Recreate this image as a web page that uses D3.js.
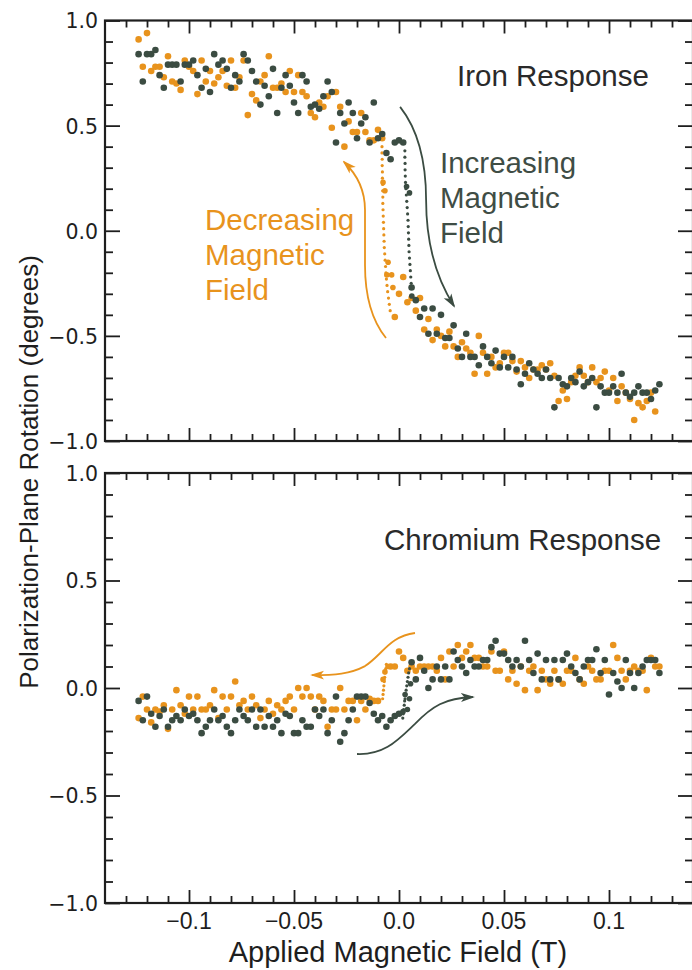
<!DOCTYPE html>
<html><head><meta charset="utf-8">
<script src="https://cdn.jsdelivr.net/npm/d3@7"></script>
<style>body{margin:0;background:#fff;} svg{display:block;}</style>
</head><body><svg id="chart" width="692" height="970"></svg>
<script>
// ---------- DATA ----------
// Field sweep grid (T): -0.124 ... 0.124 in 0.002 T steps (125 samples)
const fieldGrid = d3.range(125).map(i => +(-0.124 + 0.002 * i).toFixed(3));

// Iron, increasing field (dark)
const ironIncreasing = [
 0.84,0.71,0.84,0.84,0.86,0.74,0.68,0.79,0.79,0.79,
 0.71,0.79,0.79,0.81,0.74,0.68,0.77,0.66,0.84,0.79,
 0.81,0.77,0.68,0.74,0.71,0.84,0.81,0.76,0.71,0.60,
 0.69,0.64,0.77,0.56,0.68,0.74,0.69,0.61,0.56,0.74,
 0.71,0.59,0.60,0.58,0.64,0.71,0.66,0.42,0.56,0.51,
 0.61,0.56,0.44,0.51,0.54,0.42,0.61,0.44,0.46,0.37,
 0.34,0.42,0.43,0.42,null,
 -0.27,-0.33,-0.41,-0.37,-0.49,-0.37,-0.49,-0.40,-0.51,-0.51,
 -0.45,-0.56,-0.60,-0.49,-0.60,-0.60,-0.64,-0.55,-0.60,-0.63,
 -0.57,-0.65,-0.60,-0.65,-0.60,-0.66,-0.73,-0.68,-0.63,-0.66,
 -0.68,-0.70,-0.66,-0.70,-0.84,-0.70,-0.73,-0.74,-0.70,-0.72,
 -0.67,-0.74,-0.72,-0.70,-0.84,-0.74,-0.77,-0.77,-0.74,-0.77,
 -0.68,-0.77,-0.79,-0.77,-0.74,-0.77,-0.77,-0.80,-0.76,-0.73
];
// Iron, decreasing field (orange)
const ironDecreasing = [
 0.91,0.78,0.94,0.76,0.78,0.78,0.73,0.83,0.71,0.70,
 0.67,0.81,0.78,0.76,0.65,0.81,0.71,0.76,0.70,0.73,
 0.76,0.69,0.81,0.68,0.73,0.81,0.55,0.65,0.62,0.71,
 0.74,0.83,0.68,0.68,0.70,0.66,0.76,0.66,0.74,0.66,
 0.64,0.56,0.54,0.61,0.59,0.64,0.49,0.66,0.59,0.40,
 0.52,0.47,0.47,0.56,0.47,0.43,0.43,0.48,0.44,null,
 null,-0.41,-0.30,-0.22,-0.34,-0.32,-0.38,-0.32,-0.47,-0.42,
 -0.52,-0.47,-0.50,-0.55,-0.48,-0.55,-0.60,-0.53,-0.56,-0.58,
 -0.68,-0.50,-0.58,-0.68,-0.60,-0.65,-0.63,-0.58,-0.58,-0.62,
 -0.67,-0.62,-0.65,-0.70,-0.66,-0.66,-0.64,-0.66,-0.63,-0.69,
 -0.81,-0.76,-0.80,-0.72,-0.69,-0.65,-0.69,-0.72,-0.65,-0.72,
 -0.70,-0.67,-0.76,-0.70,-0.81,-0.74,-0.77,-0.80,-0.90,-0.82,
 -0.84,-0.81,-0.77,-0.86,null
];
// Chromium, increasing field (dark)
const chromiumIncreasing = [
 -0.06,-0.15,-0.04,-0.12,-0.18,-0.13,-0.10,-0.18,-0.15,-0.13,
 -0.15,-0.10,-0.13,-0.12,-0.15,-0.21,-0.18,-0.15,-0.10,-0.15,
 -0.13,-0.18,-0.21,-0.15,-0.10,-0.13,-0.15,-0.10,-0.18,-0.10,
 -0.18,-0.13,-0.18,-0.15,-0.21,-0.12,-0.13,-0.21,-0.21,-0.15,
 -0.18,-0.18,-0.10,-0.13,-0.10,-0.21,-0.15,-0.04,-0.25,-0.21,
 -0.15,-0.10,-0.04,-0.04,-0.04,-0.07,-0.12,-0.15,-0.13,-0.18,
 -0.15,-0.13,-0.12,null,null,
 0.12,0.04,0.14,0.08,0.00,0.04,0.10,0.04,0.10,0.04,
 0.17,0.13,0.10,0.07,0.13,0.10,0.10,0.13,0.13,0.19,
 0.22,0.16,0.16,0.13,0.10,0.13,0.10,0.22,0.13,0.07,
 0.16,0.04,0.13,0.04,0.13,0.04,0.13,0.16,0.10,0.07,
 0.04,0.10,0.13,0.13,0.18,0.07,0.13,-0.03,0.07,0.03,
 0.00,0.13,0.07,0.00,0.07,0.10,0.13,0.13,0.13,0.07
];
// Chromium, decreasing field (orange)
const chromiumDecreasing = [
 -0.14,-0.04,-0.10,-0.16,-0.10,-0.11,-0.08,-0.19,-0.10,-0.01,
 -0.08,-0.12,-0.04,-0.10,-0.04,-0.10,-0.10,-0.08,-0.01,-0.14,
 -0.04,-0.10,-0.04,0.03,-0.08,-0.06,-0.10,-0.04,-0.08,-0.14,
 -0.10,-0.06,-0.12,-0.08,-0.10,-0.06,-0.04,-0.10,0.00,-0.04,
 0.00,-0.04,-0.10,-0.04,-0.06,-0.18,-0.10,-0.10,0.00,-0.10,
 -0.06,-0.06,-0.15,-0.06,-0.10,-0.05,-0.06,-0.06,null,null,
 0.10,0.10,0.17,0.14,0.08,0.10,0.08,0.10,0.10,0.10,
 0.10,0.08,0.14,0.04,0.17,0.10,0.20,0.14,0.17,0.20,
 0.14,0.14,0.10,0.10,0.17,0.08,0.08,0.17,0.04,0.08,
 0.02,0.10,-0.01,0.08,0.10,-0.01,0.08,0.04,0.02,0.08,
 0.04,0.02,0.08,0.08,0.14,0.04,0.02,0.10,0.08,0.04,
 0.04,0.08,0.08,0.20,0.14,0.08,0.04,0.08,0.10,0.08,
 0.08,-0.01,0.14,0.10,0.10
];

// Dense sweeps through the switching fields: [field (T), rotation (deg)]
const ironIncreasingSwitch = [
 [0.0028,0.38],[0.0028,0.35],[0.0029,0.32],[0.0029,0.29],[0.0030,0.26],[0.0031,0.23],
 [0.0033,0.20],[0.0035,0.17],[0.0037,0.14],[0.0039,0.11],[0.0041,0.08],[0.0043,0.05],
 [0.0044,0.02],[0.0045,-0.01],[0.0046,-0.04],[0.0047,-0.07],[0.0048,-0.10],[0.0050,-0.13],
 [0.0052,-0.16],[0.0054,-0.19],[0.0056,-0.22],[0.0058,-0.25]
];
const ironIncreasingSwitchLarge = [[0.0036,0.21],[0.0050,0.18],[0.0061,-0.31]];
const ironDecreasingSwitch = [
 [-0.0081,0.40],[-0.0081,0.37],[-0.0080,0.34],[-0.0080,0.31],[-0.0079,0.28],[-0.0079,0.25],
 [-0.0078,0.22],[-0.0078,0.19],[-0.0077,0.16],[-0.0077,0.13],[-0.0076,0.10],[-0.0075,0.07],
 [-0.0074,0.04],[-0.0073,0.01],[-0.0072,-0.02],[-0.0071,-0.05],[-0.0070,-0.08],[-0.0068,-0.11],
 [-0.0066,-0.14],[-0.0064,-0.17],[-0.0062,-0.20],[-0.0060,-0.23],[-0.0057,-0.26],[-0.0054,-0.29],
 [-0.0050,-0.32],[-0.0046,-0.35],[-0.0042,-0.38]
];
const ironDecreasingSwitchLarge = [[-0.0076,0.23],[-0.0067,0.19],[-0.0052,-0.15],[-0.0035,-0.21],[-0.0029,-0.27],[-0.0058,-0.21]];
const chromiumIncreasingSwitch = [
 [0.0018,-0.14],[0.0020,-0.12],[0.0022,-0.10],[0.0025,-0.08],[0.0027,-0.06],[0.0029,-0.05],
 [0.0031,-0.03],[0.0034,-0.01],[0.0037,0.01],[0.0040,0.03],[0.0043,0.05],[0.0046,0.07],[0.0050,0.09]
];
const chromiumIncreasingSwitchLarge = [[0.0019,-0.11],[0.0029,-0.03],[0.0040,-0.10],[0.0050,-0.05],[0.0055,0.02]];
const chromiumDecreasingSwitch = [
 [-0.0078,-0.05],[-0.0076,-0.03],[-0.0074,-0.01],[-0.0072,0.01],[-0.0070,0.03],
 [-0.0068,0.05],[-0.0066,0.07],[-0.0063,0.09],[-0.0060,0.11]
];
const chromiumDecreasingSwitchLarge = [[-0.0076,0.04],[-0.0067,0.075],[-0.0052,0.10]];

// Axis ticks
const xMajorTicks = [-0.1, -0.05, 0, 0.05, 0.1];
const xTickLabels = ["\u22120.1", "\u22120.05", "0.0", "0.05", "0.1"];
const xMinorTicks = [-0.13,-0.12,-0.11,-0.09,-0.08,-0.07,-0.06,-0.04,-0.03,-0.02,-0.01,
                     0.01,0.02,0.03,0.04,0.06,0.07,0.08,0.09,0.11,0.12,0.13];
const yMajorTicks = [-1, -0.5, 0, 0.5, 1];
const yTickLabels = ["\u22121.0", "\u22120.5", "0.0", "0.5", "1.0"];
const yMinorTicks = [-0.9,-0.8,-0.7,-0.6,-0.4,-0.3,-0.2,-0.1,0.1,0.2,0.3,0.4,0.6,0.7,0.8,0.9];

// Annotation arrows, in data coordinates [field, rotation]
const arrowIncreasingIron = {M:[0.0005,0.589], Q1:[[0.0129,0.432],[0.0129,0.146]], Q2:[[0.0129,-0.149],[0.0262,-0.358]]};
const arrowDecreasingIron = {M:[-0.0062,-0.510], Q1:[[-0.0162,-0.387],[-0.0162,-0.163]], L:[-0.0162,0.0987], Q2:[[-0.0162,0.232],[-0.0262,0.327]]};
const arrowDecreasingCr = {M:[0.0076,0.256], C1:[[-0.0043,0.242],[-0.0081,0.153],[-0.0162,0.102]], C2:[[-0.0233,0.065],[-0.0305,0.060],[-0.0414,0.060]]};
const arrowIncreasingCr = {M:[-0.020,-0.307], C1:[[-0.0067,-0.312],[-0.0005,-0.242],[0.0076,-0.167]], C2:[[0.0157,-0.084],[0.0219,-0.047],[0.0352,-0.042]]};

// ---------- STYLE / LAYOUT ----------
const ORANGE = "#e8931d";
const DARK = "#3b4c42";
const INK = "#1e1e1e";
const SANS = "'Liberation Sans', Arial, Helvetica, sans-serif";

const svg = d3.select("#chart");
svg.append("rect").attr("width", 692).attr("height", 970).attr("fill", "#fff");

const x = d3.scaleLinear().domain([-0.14, 0.14]).range([105, 693]);
const panels = [
  {key: "iron", top: 20.5, bottom: 441, showX: false},
  {key: "cr", top: 473, bottom: 903, showX: true}
];
panels.forEach(p => { p.y = d3.scaleLinear().domain([-1, 1]).range([p.bottom, p.top]); });

const defs = svg.append("defs");
[["arrDark", DARK], ["arrOrange", ORANGE]].forEach(([id, col]) => {
  defs.append("marker").attr("id", id).attr("viewBox", "0 0 14 10")
    .attr("refX", 12).attr("refY", 5).attr("markerWidth", 14).attr("markerHeight", 10)
    .attr("markerUnits", "userSpaceOnUse").attr("orient", "auto")
    .append("path").attr("d", "M0,0.5 L14,5 L0,9.5 L3.5,5 Z").attr("fill", col);
});

function drawAxes(p) {
  const g = svg.append("g");
  const styleAxis = sel => {
    sel.select(".domain").remove();
    sel.selectAll(".tick line").attr("stroke", INK).attr("stroke-width", 1.8);
  };
  g.append("g").attr("transform", `translate(0,${p.bottom})`)
    .call(d3.axisBottom(x).tickValues(xMajorTicks).tickSize(-13).tickFormat("")).call(styleAxis);
  g.append("g").attr("transform", `translate(0,${p.bottom})`)
    .call(d3.axisBottom(x).tickValues(xMinorTicks).tickSize(-7).tickFormat("")).call(styleAxis);
  g.append("g").attr("transform", `translate(0,${p.top})`)
    .call(d3.axisTop(x).tickValues(xMajorTicks).tickSize(-13).tickFormat("")).call(styleAxis);
  g.append("g").attr("transform", `translate(0,${p.top})`)
    .call(d3.axisTop(x).tickValues(xMinorTicks).tickSize(-7).tickFormat("")).call(styleAxis);
  const yl = g.append("g").attr("transform", `translate(${x.range()[0]},0)`)
    .call(d3.axisLeft(p.y).tickValues(yMajorTicks).tickSize(-15).tickPadding(7)
      .tickFormat((d, i) => yTickLabels[i])).call(styleAxis);
  yl.selectAll("text").attr("font-family", "'DejaVu Sans', sans-serif").attr("font-size", 20.5)
    .attr("fill", INK).attr("dy", "0.36em");
  g.append("g").attr("transform", `translate(${x.range()[0]},0)`)
    .call(d3.axisLeft(p.y).tickValues(yMinorTicks).tickSize(-8).tickFormat("")).call(styleAxis);
  g.append("g").attr("transform", `translate(${x.range()[1]},0)`)
    .call(d3.axisRight(p.y).tickValues(yMajorTicks).tickSize(-15).tickFormat("")).call(styleAxis);
  g.append("g").attr("transform", `translate(${x.range()[1]},0)`)
    .call(d3.axisRight(p.y).tickValues(yMinorTicks).tickSize(-8).tickFormat("")).call(styleAxis);
  g.append("rect").attr("x", x.range()[0]).attr("y", p.top)
    .attr("width", x.range()[1] - x.range()[0]).attr("height", p.bottom - p.top)
    .attr("fill", "none").attr("stroke", INK).attr("stroke-width", 2.2);
  if (p.showX) {
    g.append("g").selectAll("text").data(xMajorTicks).join("text")
      .attr("x", d => x(d)).attr("y", p.bottom + 26).attr("text-anchor", "middle")
      .attr("font-family", SANS).attr("font-size", 23).attr("fill", INK)
      .text((d, i) => xTickLabels[i]);
  }
}

function dots(p, values, color, r) {
  const pts = values.map((v, i) => [fieldGrid[i], v]).filter(d => d[1] !== null);
  svg.append("g").selectAll("circle").data(pts).join("circle")
    .attr("cx", d => x(d[0])).attr("cy", d => p.y(d[1])).attr("r", r).attr("fill", color);
}
function pairDots(p, pairs, color, r) {
  svg.append("g").selectAll("circle").data(pairs).join("circle")
    .attr("cx", d => x(d[0])).attr("cy", d => p.y(d[1])).attr("r", r).attr("fill", color);
}
function arrowPath(p, a) {
  const P = d => `${x(d[0]).toFixed(1)},${p.y(d[1]).toFixed(1)}`;
  let s = `M${P(a.M)}`;
  if (a.Q1) s += ` Q${P(a.Q1[0])} ${P(a.Q1[1])}`;
  if (a.L) s += ` L${P(a.L)}`;
  if (a.Q2) s += ` Q${P(a.Q2[0])} ${P(a.Q2[1])}`;
  if (a.C1) s += ` C${P(a.C1[0])} ${P(a.C1[1])} ${P(a.C1[2])}`;
  if (a.C2) s += ` C${P(a.C2[0])} ${P(a.C2[1])} ${P(a.C2[2])}`;
  return s;
}

const [pI, pC] = panels;
drawAxes(pI);
drawAxes(pC);

dots(pI, ironDecreasing, ORANGE, 3.3);
pairDots(pI, ironDecreasingSwitch, ORANGE, 1.6);
pairDots(pI, ironDecreasingSwitchLarge, ORANGE, 2.8);
dots(pI, ironIncreasing, DARK, 3.3);
pairDots(pI, ironIncreasingSwitch, DARK, 1.6);
pairDots(pI, ironIncreasingSwitchLarge, DARK, 2.8);

dots(pC, chromiumDecreasing, ORANGE, 3.3);
pairDots(pC, chromiumDecreasingSwitch, ORANGE, 1.6);
pairDots(pC, chromiumDecreasingSwitchLarge, ORANGE, 2.8);
dots(pC, chromiumIncreasing, DARK, 3.3);
pairDots(pC, chromiumIncreasingSwitch, DARK, 1.6);
pairDots(pC, chromiumIncreasingSwitchLarge, DARK, 2.8);

const arrows = [
  [pI, arrowIncreasingIron, DARK, "arrDark"],
  [pI, arrowDecreasingIron, ORANGE, "arrOrange"],
  [pC, arrowDecreasingCr, ORANGE, "arrOrange"],
  [pC, arrowIncreasingCr, DARK, "arrDark"]
];
arrows.forEach(([p, a, col, m]) => {
  svg.append("path").attr("d", arrowPath(p, a)).attr("fill", "none")
    .attr("stroke", col).attr("stroke-width", 1.8).attr("marker-end", `url(#${m})`);
});

function label(lines, xPos, y0, color, size, lh) {
  const t = svg.append("text").attr("font-family", SANS).attr("font-size", size).attr("fill", color);
  lines.forEach((s, i) => t.append("tspan").attr("x", xPos).attr("y", y0 + i * lh).text(s));
}
label(["Iron Response"], 457, 86, "#2a2a2a", 29.5, 0);
label(["Chromium Response"], 384, 550, "#2a2a2a", 29.5, 0);
label(["Increasing", "Magnetic", "Field"], 440, 173, "#3f4d45", 29.5, 35);
label(["Decreasing", "Magnetic", "Field"], 205, 230, ORANGE, 29.5, 35);

svg.append("text").attr("transform", "translate(38,472) rotate(-90)")
  .attr("text-anchor", "middle").attr("font-family", SANS).attr("font-size", 26)
  .attr("fill", INK).text("Polarization-Plane Rotation (degrees)");
svg.append("text").attr("x", 398).attr("y", 962).attr("text-anchor", "middle")
  .attr("font-family", SANS).attr("font-size", 29).attr("fill", INK)
  .text("Applied Magnetic Field (T)");
</script></body></html>
